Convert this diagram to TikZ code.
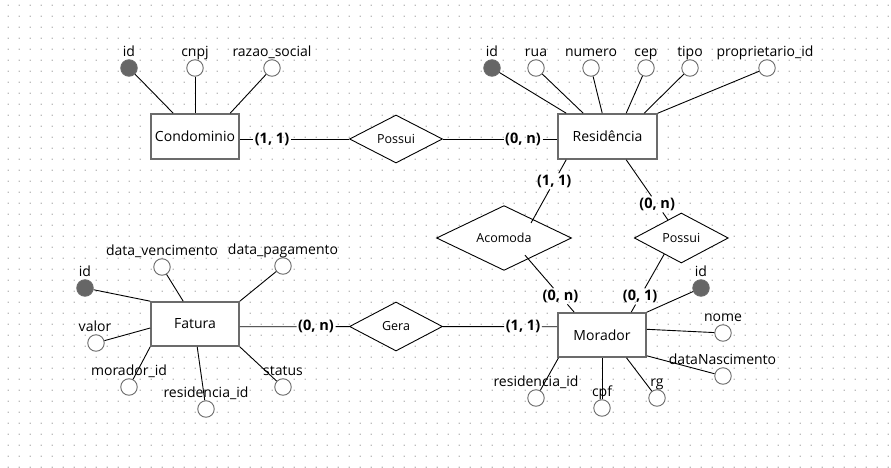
\documentclass[tikz,border=0pt]{standalone}
\usepackage{fontspec}
\setmainfont{Open Sans}
\usetikzlibrary{shapes.geometric,calc}
\definecolor{boxgray}{HTML}{6B6B6B}
\definecolor{keyfill}{HTML}{666666}
\definecolor{dotc}{HTML}{BDBDBD}
\tikzset{
  entity/.style={draw=boxgray, line width=1.6pt, fill=white, minimum height=45pt, inner sep=0pt, font=\fontsize{14}{16}\selectfont},
  relat/.style={diamond, draw=black, line width=0.9pt, fill=white, inner sep=0pt, font=\fontsize{12.5}{14}\selectfont},
  attr/.style={circle, draw=boxgray, line width=0.9pt, fill=white, minimum size=16.5pt, inner sep=0pt},
  keyattr/.style={attr, fill=keyfill},
  lbl/.style={inner sep=0pt, anchor=base, font=\fontsize{14}{16}\selectfont},
  card/.style={inner sep=1.5pt, font=\bfseries\fontsize{14.5}{16}\selectfont},
  conn/.style={draw=black, line width=0.9pt}
}
\begin{document}
\begin{tikzpicture}[x=1pt,y=-1pt]
\useasboundingbox (0,0) rectangle (891,468);
\fill[white] (0,0) rectangle (891,468);
\fill[dotc] \foreach \i in {0,...,80} {\foreach \j in {0,...,42} {(7.7+11*\i,4.7+11*\j) rectangle ++(1.2,1.2)}};

% entities
\node[entity, minimum width=88pt] (cond) at (195,136.5) {Condominio};
\node[entity, minimum width=99pt] (res) at (607.5,136.5) {Residência};
\node[entity, minimum width=88pt, minimum height=44pt] (fat) at (195,324) {Fatura};
\node[entity, minimum width=88pt, minimum height=44pt] (mor) at (602,335) {Morador};

% relationships
\node[relat, minimum width=93pt, minimum height=48pt] (pos1) at (396,139) {Possui};
\node[relat, minimum width=135pt, minimum height=50pt] (aco) at (504,238) {Acomoda};
\node[relat, minimum width=94pt, minimum height=50pt] (pos2) at (681.3,238) {Possui};
\node[relat, minimum width=93pt, minimum height=49pt] (gera) at (396,326.5) {Gera};

% horizontal cardinalities
\node[card] (c1) at (272,139) {(1, 1)};
\node[card] (c2) at (523,139) {(0, n)};
\node[card] (c3) at (316,326.7) {(0, n)};
\node[card] (c4) at (523,326.7) {(1, 1)};
\draw[conn] (cond.east |- c1) -- (c1) -- (pos1);
\draw[conn] (pos1) -- (c2) -- (res.west |- c2);
\draw[conn] (fat.east |- c3) -- (c3) -- (gera);
\draw[conn] (gera) -- (c4) -- (mor.west |- c4);

% diagonal cardinalities
\coordinate (a1) at ([xshift=9pt]res.south west);
\coordinate (b1) at ([xshift=27pt,yshift=15pt]aco.center);
\node[card] (c5) at ($(a1)!0.34!(b1)$) {(1, 1)};
\draw[conn] (a1) -- (c5) -- (b1);

\coordinate (a2) at ([xshift=69pt]res.south west);
\coordinate (b2) at ([xshift=-13.3pt,yshift=18pt]pos2.center);
\node[card] (c6) at ($(a2)!0.74!(b2)$) {(0, n)};
\draw[conn] (a2) -- (c6) -- (b2);

\coordinate (a3) at ([xshift=21pt,yshift=-17.2pt]aco.center);
\coordinate (b3) at ([xshift=17pt]mor.north west);
\node[card] (c7) at ($(a3)!0.72!(b3)$) {(0, n)};
\draw[conn] (a3) -- (c7) -- (b3);

\coordinate (a4) at ([xshift=-17pt,yshift=-16pt]pos2.center);
\coordinate (b4) at ([xshift=74pt]mor.north west);
\node[card] (c8) at ($(a4)!0.73!(b4)$) {(0, 1)};
\draw[conn] (a4) -- (c8) -- (b4);

% Condominio attributes
\node[keyattr] (cid) at (129,68) {};
\node[attr] (ccnpj) at (195,68) {};
\node[attr] (crs) at (272,68) {};
\node[lbl] (tcid) at (129,56.5) {id};
\node[lbl] (tccnpj) at (195,56.5) {cnpj};
\node[lbl] (tcrs) at (272,56.5) {razao\_social};
\draw[conn] (cid) -- ([xshift=23pt]cond.north west);
\draw[conn] (ccnpj) -- (cond.north);
\draw[conn] (crs) -- ([xshift=80pt]cond.north west);

% Residencia attributes
\node[keyattr] (rid) at (492,68) {};
\node[attr] (rrua) at (536,68) {};
\node[attr] (rnum) at (591,68) {};
\node[attr] (rcep) at (646,68) {};
\node[attr] (rtipo) at (690,68) {};
\node[attr] (rprop) at (767,68) {};
\node[lbl] (trid) at (492,56.5) {id};
\node[lbl] (trrua) at (536,56.5) {rua};
\node[lbl] (trnum) at (591,56.5) {numero};
\node[lbl] (trcep) at (646,56.5) {cep};
\node[lbl] (trtipo) at (690,56.5) {tipo};
\node[lbl] (trprop) at (765,56.5) {proprietario\_id};
\draw[conn] (rid) -- ([xshift=9pt]res.north west);
\draw[conn] (rrua) -- ([xshift=26pt]res.north west);
\draw[conn] (rnum) -- ([xshift=45pt]res.north west);
\draw[conn] (rcep) -- ([xshift=69pt]res.north west);
\draw[conn] (rtipo) -- ([xshift=87pt]res.north west);
\draw[conn] (rprop) -- (res.north east);

% Fatura attributes
\node[keyattr] (fid) at (85,288) {};
\node[attr] (fdv) at (162,267) {};
\node[attr] (fdp) at (283,266) {};
\node[attr] (fval) at (96,343) {};
\node[attr] (fmor) at (129,387) {};
\node[attr] (fres) at (206,409) {};
\node[attr] (fst) at (283,387) {};
\node[lbl] (tfid) at (85,276.5) {id};
\node[lbl] (tfdv) at (162,255.5) {data\_vencimento};
\node[lbl] (tfdp) at (283,254.5) {data\_pagamento};
\node[lbl] (tfval) at (95,331.5) {valor};
\node[lbl] (tfmor) at (129,375.5) {morador\_id};
\node[lbl] (tfres) at (206,397.5) {residencia\_id};
\node[lbl] (tfst) at (283,375.5) {status};
\draw[conn] (fid) -- (fat.north west);
\draw[conn] (fdv) -- ([xshift=33pt]fat.north west);
\draw[conn] (fdp) -- (fat.north east);
\draw[conn] (fval) -- ([yshift=-4pt]fat.west);
\draw[conn] (fmor) -- (fat.south west);
\draw[conn] (fres) -- ([xshift=47pt]fat.south west);
\draw[conn] (fst) -- (fat.south east);

% Morador attributes
\node[keyattr] (mid) at (701,288) {};
\node[attr] (mnome) at (723,333) {};
\node[attr] (mdn) at (723,376) {};
\node[attr] (mres) at (536,398) {};
\node[attr] (mcpf) at (602,408) {};
\node[attr] (mrg) at (657,398) {};
\node[lbl] (tmid) at (701,276.5) {id};
\node[lbl] (tmnome) at (723,321) {nome};
\node[lbl] (tmdn) at (722.5,364.5) {dataNascimento};
\node[lbl] (tmres) at (536,386.5) {residencia\_id};
\node[lbl] (tmcpf) at (602,396.5) {cpf};
\node[lbl] (tmrg) at (657,386.5) {rg};
\draw[conn] (mid) -- (mor.north east);
\draw[conn] (mnome) -- ([yshift=5.7pt]mor.east);
\draw[conn] (mdn) -- ([yshift=2pt]mor.south east);
\draw[conn] (mres) -- ([xshift=1.3pt]mor.south west);
\draw[conn] (mcpf) -- (mor.south);
\draw[conn] (mrg) -- ([xshift=69.3pt]mor.south west);
\end{tikzpicture}
\end{document}
